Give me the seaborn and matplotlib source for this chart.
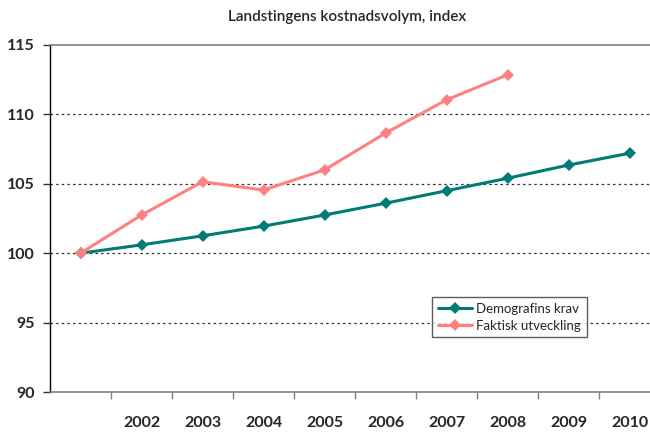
import numpy as np
import pandas as pd
import matplotlib.pyplot as plt
import seaborn as sns

# Data
years = [2001, 2002, 2003, 2004, 2005, 2006, 2007, 2008, 2009, 2010]
year_labels = ["", "2002", "2003", "2004", "2005", "2006", "2007", "2008", "2009", "2010"]
demografi = [100.0, 100.6, 101.25, 101.95, 102.75, 103.6, 104.5, 105.4, 106.35, 107.2]
faktisk = [100.0, 102.75, 105.15, 104.55, 106.0, 108.65, 111.05, 112.85, np.nan, np.nan]

series_names = ["Demografins krav", "Faktisk utveckling"]
colors = ["#007B78", "#FF8080"]

pos = np.arange(len(years))
df = pd.concat([
    pd.DataFrame({"pos": pos, "value": demografi, "serie": series_names[0]}),
    pd.DataFrame({"pos": pos, "value": faktisk, "serie": series_names[1]}),
], ignore_index=True)

sns.set_style("white")
plt.rcParams["font.family"] = ["Lato", "DejaVu Sans"]

fig = plt.figure(figsize=(6.5, 4.33), dpi=100)
ax = fig.add_axes([50 / 650, 1 - 392 / 433, 610 / 650, 347 / 433])

sns.lineplot(data=df, x="pos", y="value", hue="serie", style="serie",
             palette=dict(zip(series_names, colors)),
             markers={series_names[0]: "D", series_names[1]: "D"},
             dashes=False, linewidth=2.2, markersize=6,
             markeredgewidth=0, ax=ax)

ax.set_xlim(-0.5, len(years) - 0.5)
ax.set_ylim(90, 115)
ax.set_yticks([90, 95, 100, 105, 110, 115])
for yv in [95, 100, 105, 110]:
    ax.axhline(yv, color="#333333", linestyle=(0, (2, 2.5)), linewidth=0.9, zorder=0)

# ticks at category boundaries, labels at centres
ax.set_xticks(pos[:-1] + 0.5)
ax.set_xticklabels([])
ax.set_xticks(pos, minor=True)
ax.set_xticklabels(year_labels, minor=True, fontsize=11.5, fontweight="bold")
ax.tick_params(axis="x", which="major", direction="out", length=5, color="#808080", width=1, bottom=True)
ax.tick_params(axis="x", which="minor", length=0, pad=17)
ax.tick_params(axis="y", direction="out", length=5, color="#333333", width=1, left=True, pad=6)
for t in ax.get_yticklabels():
    t.set_fontsize(11.5)
    t.set_fontweight("bold")

ax.spines["left"].set_color("black")
ax.spines["left"].set_linewidth(1)
ax.spines["bottom"].set_color("#808080")
ax.spines["bottom"].set_linewidth(1.2)
ax.spines["top"].set_color("#808080")
ax.spines["top"].set_linewidth(1.2)
ax.spines["right"].set_visible(False)

ax.set_xlabel("")
ax.set_ylabel("")

fig.text(347 / 650, 1 - 17 / 433, "Landstingens kostnadsvolym, index", ha="center", va="center",
         fontsize=11, fontweight="semibold")

leg = ax.legend(loc="upper left", bbox_to_anchor=((432 - 50) / 610, (392 - 297) / 347),
                frameon=True, fancybox=False, fontsize=9.5, handlelength=2.6,
                borderpad=0.45, labelspacing=0.35, handletextpad=0.3, borderaxespad=0)
leg.get_frame().set_edgecolor("#333333")
leg.get_frame().set_linewidth(1)

plt.savefig("out.png", dpi=100)
plt.close()
